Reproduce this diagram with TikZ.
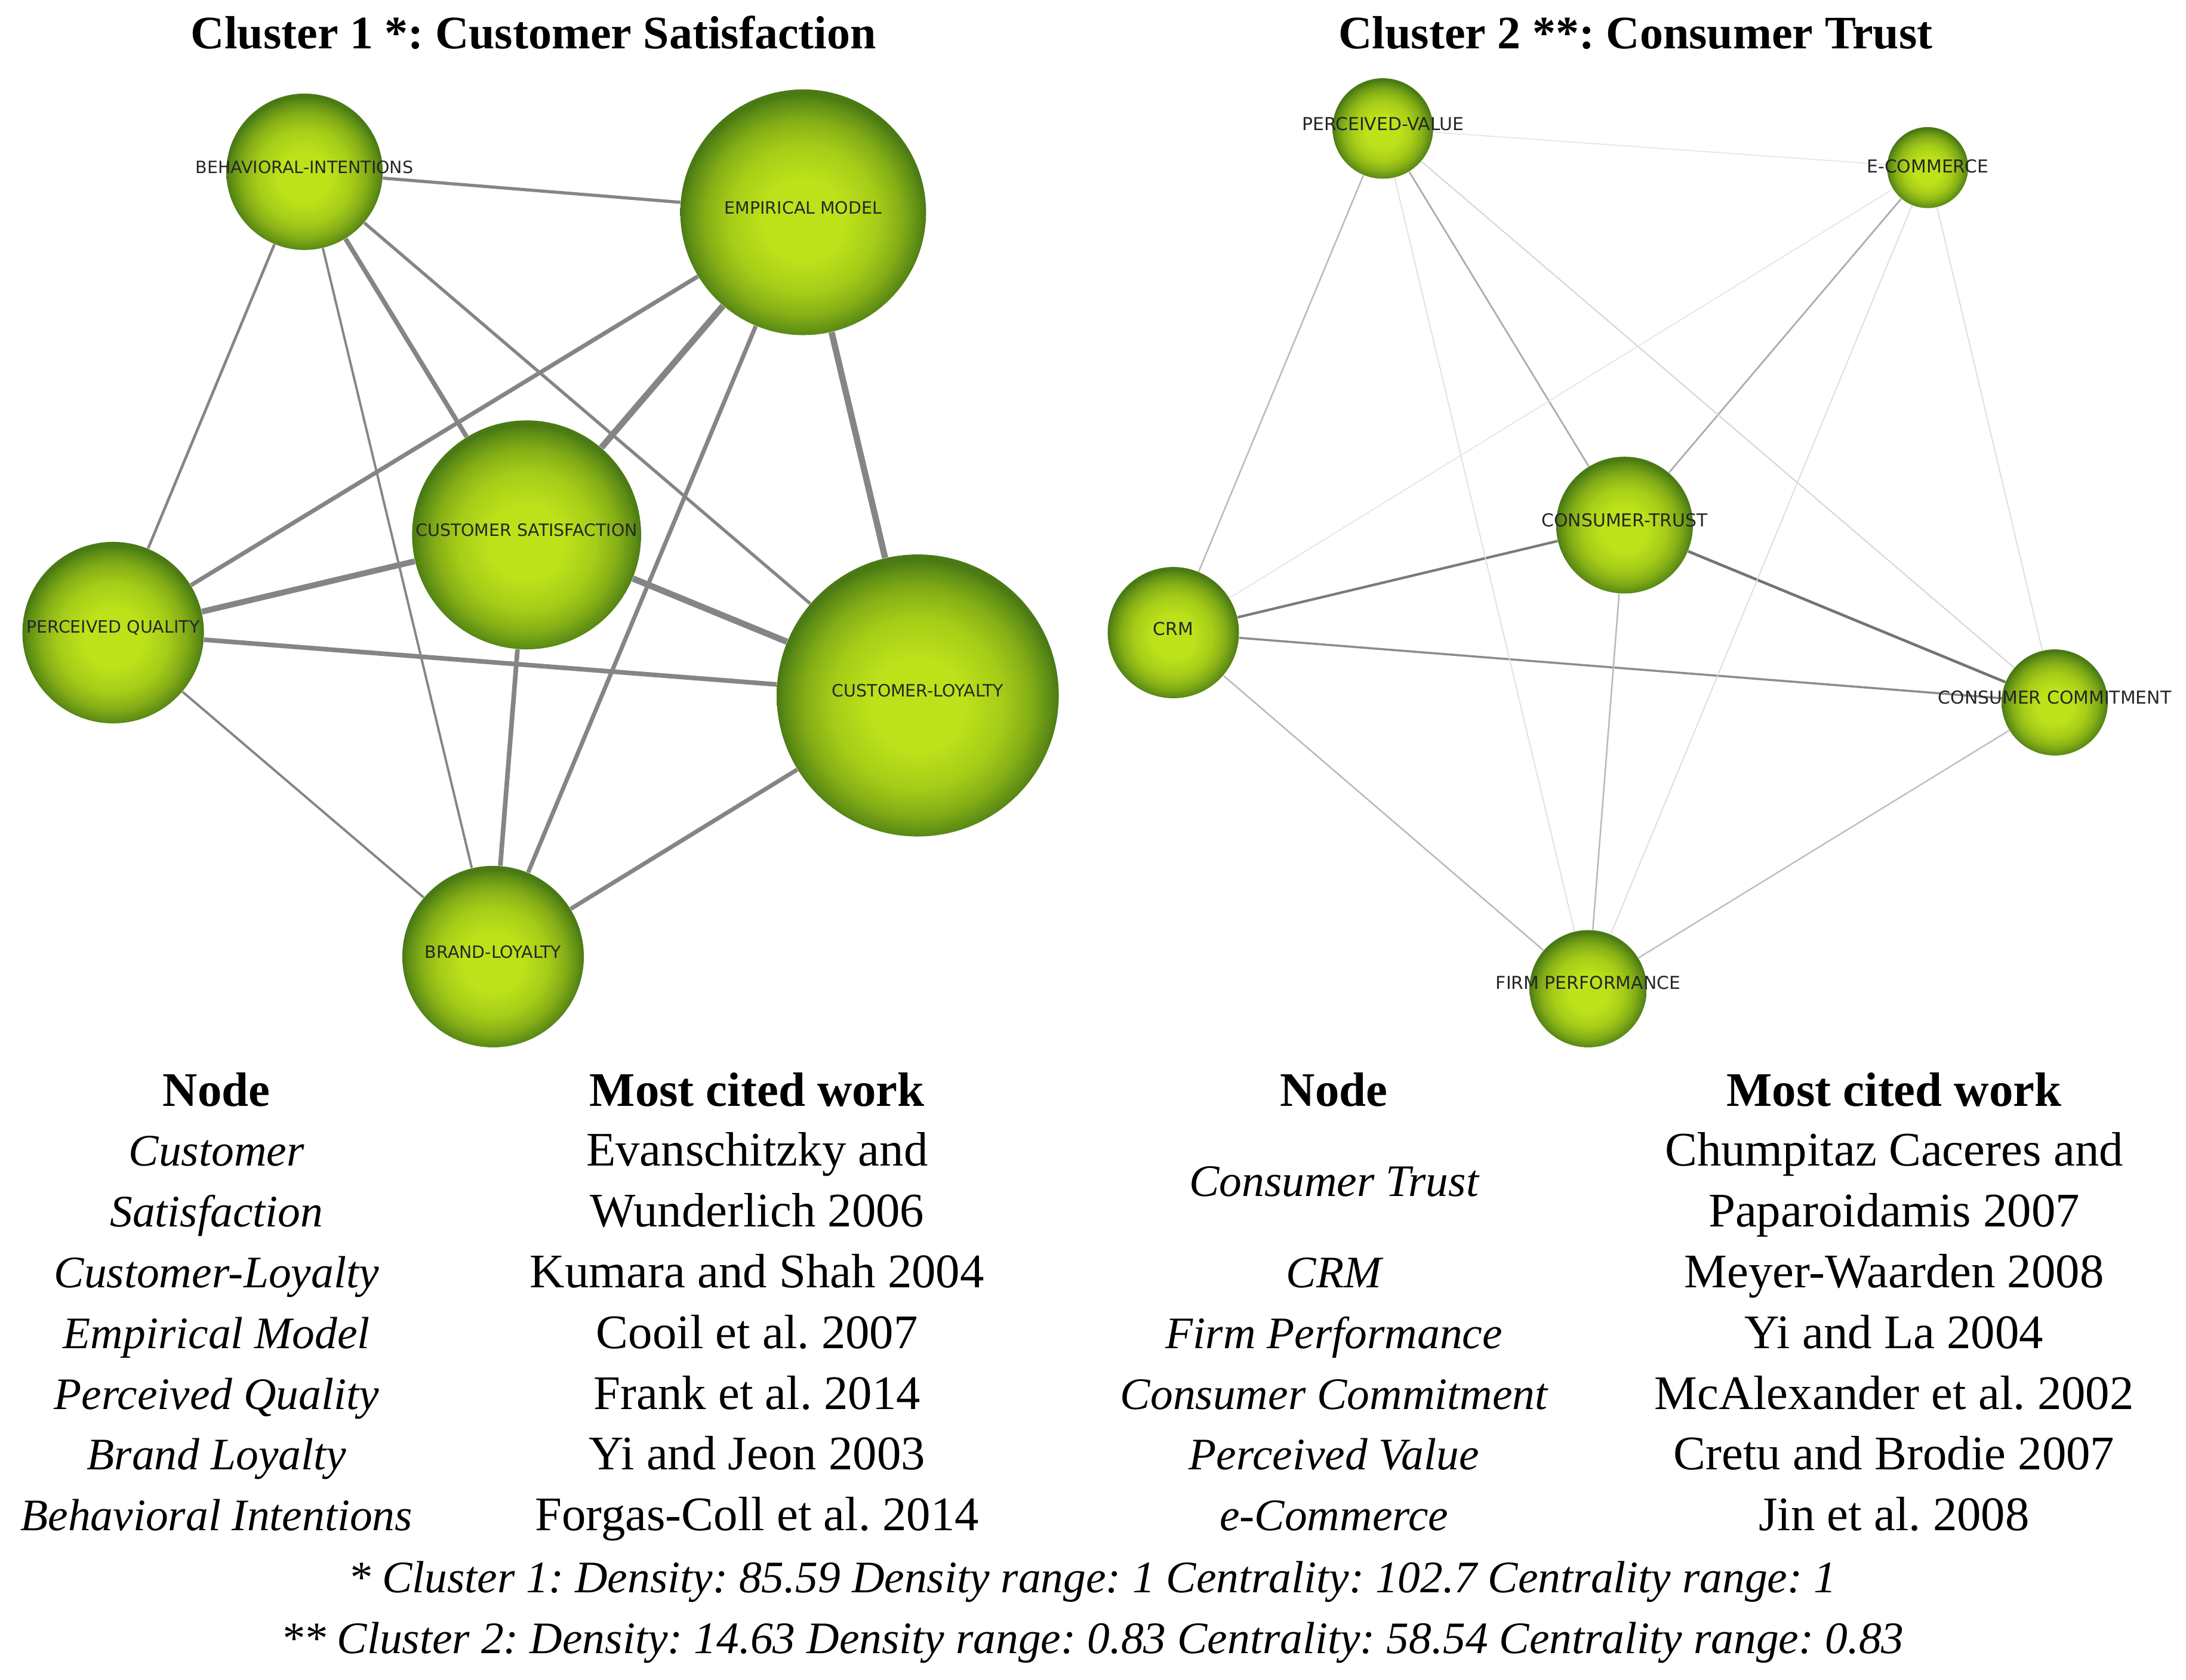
\documentclass[tikz,border=0pt]{standalone}
\usepackage{fontspec}
\setmainfont{Liberation Serif}
\newfontfamily\tagfont{DejaVu Sans}
\usepackage{xcolor}
\usetikzlibrary{backgrounds}
\frenchspacing
\definecolor{ballhi}{HTML}{BEE21A}
\definecolor{ballmd}{HTML}{A6CD18}
\definecolor{balllo}{HTML}{84AE16}
\definecolor{ballrm}{HTML}{5E8D15}
\definecolor{balldk}{HTML}{4A7A14}
\definecolor{tie}{HTML}{858585}
\pgfdeclareradialshading{greenball}{\pgfpoint{0bp}{-2bp}}{color(0bp)=(ballhi); color(8bp)=(ballhi); color(15bp)=(ballmd); color(20bp)=(balllo); color(23.5bp)=(ballrm); color(25bp)=(balldk); color(50bp)=(balldk)}
\tikzset{ball/.style={circle, inner sep=0pt, shading=greenball, minimum size={#1*0.0468cm}}}
\tikzstyle{tagA} = [inner sep=0pt, text=black!85, font=\tagfont\fontsize{8.1}{9}\selectfont]
\tikzstyle{tagB} = [inner sep=0pt, text=black!85, font=\tagfont\fontsize{8.5}{10}\selectfont]
\tikzstyle{title} = [anchor=base, inner sep=0pt, font=\bfseries\fontsize{22.2}{27}\selectfont]
\tikzstyle{head} = [anchor=base, inner sep=0pt, font=\bfseries\fontsize{23}{28.7}\selectfont]
\tikzstyle{cell} = [anchor=base, inner sep=0pt, font=\fontsize{23}{28.7}\selectfont]
\tikzstyle{cellit} = [anchor=base, inner sep=0pt, font=\itshape\fontsize{21.5}{28.7}\selectfont]
\begin{document}
\begin{tikzpicture}[x=0.0234cm, y=-0.0234cm]
		\useasboundingbox (0,0) rectangle (1565,1203);
		% Cluster 1
		\coordinate (bi) at (218,123);
		\coordinate (em) at (575,152);
		\coordinate (cs) at (377,383);
		\coordinate (pq) at (81,453);
		\coordinate (cl) at (657,498);
		\coordinate (bl) at (353,685);
		% Cluster 2
		\coordinate (pv) at (990,92);
		\coordinate (ec) at (1380,120);
		\coordinate (ct) at (1163,376);
		\coordinate (crm) at (840,453);
		\coordinate (cc) at (1471,503);
		\coordinate (fp) at (1137,708);
		% Titles
		\node[title, name=title1] at (382,35) {Cluster 1 *: Customer Satisfaction};
		\node[title, name=title2] at (1171,35) {Cluster 2 **: Consumer Trust};
		% Balls of cluster 1
		\node[ball=56, name=bi] at (bi) {};
		\node[ball=88, name=em] at (em) {};
		\node[ball=82, name=cs] at (cs) {};
		\node[ball=65, name=pq] at (pq) {};
		\node[ball=101, name=cl] at (cl) {};
		\node[ball=65, name=bl] at (bl) {};
		% Balls of cluster 2
		\node[ball=36, name=pv] at (pv) {};
		\node[ball=29, name=ec] at (ec) {};
		\node[ball=49, name=ct] at (ct) {};
		\node[ball=47, name=crm] at (crm) {};
		\node[ball=38, name=cc] at (cc) {};
		\node[ball=42, name=fp] at (fp) {};
		% Ball labels
		\node[tagA, name=bi-t] at ([yshift=0.08cm]bi.center) {BEHAVIORAL-INTENTIONS};
		\node[tagA, name=em-t] at ([yshift=0.08cm]em.center) {EMPIRICAL MODEL};
		\node[tagA, name=cs-t] at ([yshift=0.08cm]cs.center) {CUSTOMER SATISFACTION};
		\node[tagA, name=pq-t] at ([yshift=0.08cm]pq.center) {PERCEIVED QUALITY};
		\node[tagA, name=cl-t] at ([yshift=0.08cm]cl.center) {CUSTOMER-LOYALTY};
		\node[tagA, name=bl-t] at ([yshift=0.08cm]bl.center) {BRAND-LOYALTY};
		\node[tagB, name=pv-t] at ([yshift=0.08cm]pv.center) {PERCEIVED-VALUE};
		\node[tagB, name=ec-t] at ([yshift=0.02cm]ec.center) {E-COMMERCE};
		\node[tagB, name=ct-t] at ([yshift=0.08cm]ct.center) {CONSUMER-TRUST};
		\node[tagB, name=crm-t] at ([yshift=0.06cm]crm.center) {CRM};
		\node[tagB, name=cc-t] at ([yshift=0.08cm]cc.center) {CONSUMER COMMITMENT};
		\node[tagB, name=fp-t] at ([yshift=0.1cm]fp.center) {FIRM PERFORMANCE};
		% Links
		\begin{pgfonlayer}{background}
		\draw[tie, line width=1.5pt] (bi)--(em);
		\draw[tie, line width=1.3pt] (bi)--(pq);
		\draw[tie, line width=1.1pt] (bi)--(bl);
		\draw[tie, line width=2.2pt] (bi)--(cs);
		\draw[tie, line width=1.5pt] (bi)--(cl);
		\draw[tie, line width=2pt] (em)--(pq);
		\draw[tie, line width=3pt] (em)--(cs);
		\draw[tie, line width=2pt] (em)--(bl);
		\draw[tie, line width=3pt] (em)--(cl);
		\draw[tie, line width=2.8pt] (cs)--(pq);
		\draw[tie, line width=3pt] (cs)--(cl);
		\draw[tie, line width=2.2pt] (cs)--(bl);
		\draw[tie, line width=2.2pt] (pq)--(cl);
		\draw[tie, line width=1.1pt] (pq)--(bl);
		\draw[tie, line width=2pt] (cl)--(bl);
		\draw[black!55, line width=1.3pt] (ct)--(cc);
		\draw[black!52, line width=1.2pt] (ct)--(crm);
		\draw[black!45, line width=1pt] (crm)--(cc);
		\draw[black!32, line width=0.8pt] (pv)--(ct);
		\draw[black!32, line width=0.8pt] (ec)--(ct);
		\draw[black!28, line width=0.7pt] (pv)--(crm);
		\draw[black!28, line width=0.7pt] (crm)--(fp);
		\draw[black!25, line width=0.7pt] (cc)--(fp);
		\draw[black!28, line width=0.7pt] (ct)--(fp);
		\draw[black!16, line width=0.6pt] (pv)--(cc);
		\draw[black!13, line width=0.5pt] (pv)--(fp);
		\draw[black!10, line width=0.5pt] (ec)--(crm);
		\draw[black!14, line width=0.5pt] (ec)--(fp);
		\draw[black!14, line width=0.5pt] (ec)--(cc);
		\draw[black!10, line width=0.5pt] (pv)--(ec);
		\end{pgfonlayer}
		% Table
		\node[head, name=h1] at (155,792) {Node};
		\node[head, name=h2] at (542,792) {Most cited work};
		\node[head, name=h3] at (955,792) {Node};
		\node[head, name=h4] at (1356,792) {Most cited work};
		\node[cellit, name=a1] at (155,835) {Customer};
		\node[cellit, name=a1b] at (155,878.5) {Satisfaction};
		\node[cellit, name=a2] at (155,922) {Customer-Loyalty};
		\node[cellit, name=a3] at (155,965.5) {Empirical Model};
		\node[cellit, name=a4] at (155,1009) {Perceived Quality};
		\node[cellit, name=a5] at (155,1052.5) {Brand Loyalty};
		\node[cellit, name=a6] at (155,1096) {Behavioral Intentions};
		\node[cell, name=b1] at (542,835) {Evanschitzky and};
		\node[cell, name=b1b] at (542,878.5) {Wunderlich 2006};
		\node[cell, name=b2] at (542,922) {Kumara and Shah 2004};
		\node[cell, name=b3] at (542,965.5) {Cooil et al. 2007};
		\node[cell, name=b4] at (542,1009) {Frank et al. 2014};
		\node[cell, name=b5] at (542,1052.5) {Yi and Jeon 2003};
		\node[cell, name=b6] at (542,1096) {Forgas-Coll et al. 2014};
		\node[cellit, name=c1] at (955,856.5) {Consumer Trust};
		\node[cellit, name=c2] at (955,922) {CRM};
		\node[cellit, name=c3] at (955,965.5) {Firm Performance};
		\node[cellit, name=c4] at (955,1009) {Consumer Commitment};
		\node[cellit, name=c5] at (955,1052.5) {Perceived Value};
		\node[cellit, name=c6] at (955,1096) {e-Commerce};
		\node[cell, name=d1] at (1356,835) {Chumpitaz Caceres and};
		\node[cell, name=d1b] at (1356,878.5) {Paparoidamis 2007};
		\node[cell, name=d2] at (1356,922) {Meyer-Waarden 2008};
		\node[cell, name=d3] at (1356,965.5) {Yi and La 2004};
		\node[cell, name=d4] at (1356,1009) {McAlexander et al. 2002};
		\node[cell, name=d5] at (1356,1052.5) {Cretu and Brodie 2007};
		\node[cell, name=d6] at (1356,1096) {Jin et al. 2008};
		% Footnotes
		\node[cellit, name=note1] at (782,1140.5) {* Cluster 1: Density: 85.59 Density range: 1 Centrality: 102.7 Centrality range: 1};
		\node[cellit, name=note2] at (782,1184) {** Cluster 2: Density: 14.63 Density range: 0.83 Centrality: 58.54 Centrality range: 0.83};
\end{tikzpicture}
\end{document}
